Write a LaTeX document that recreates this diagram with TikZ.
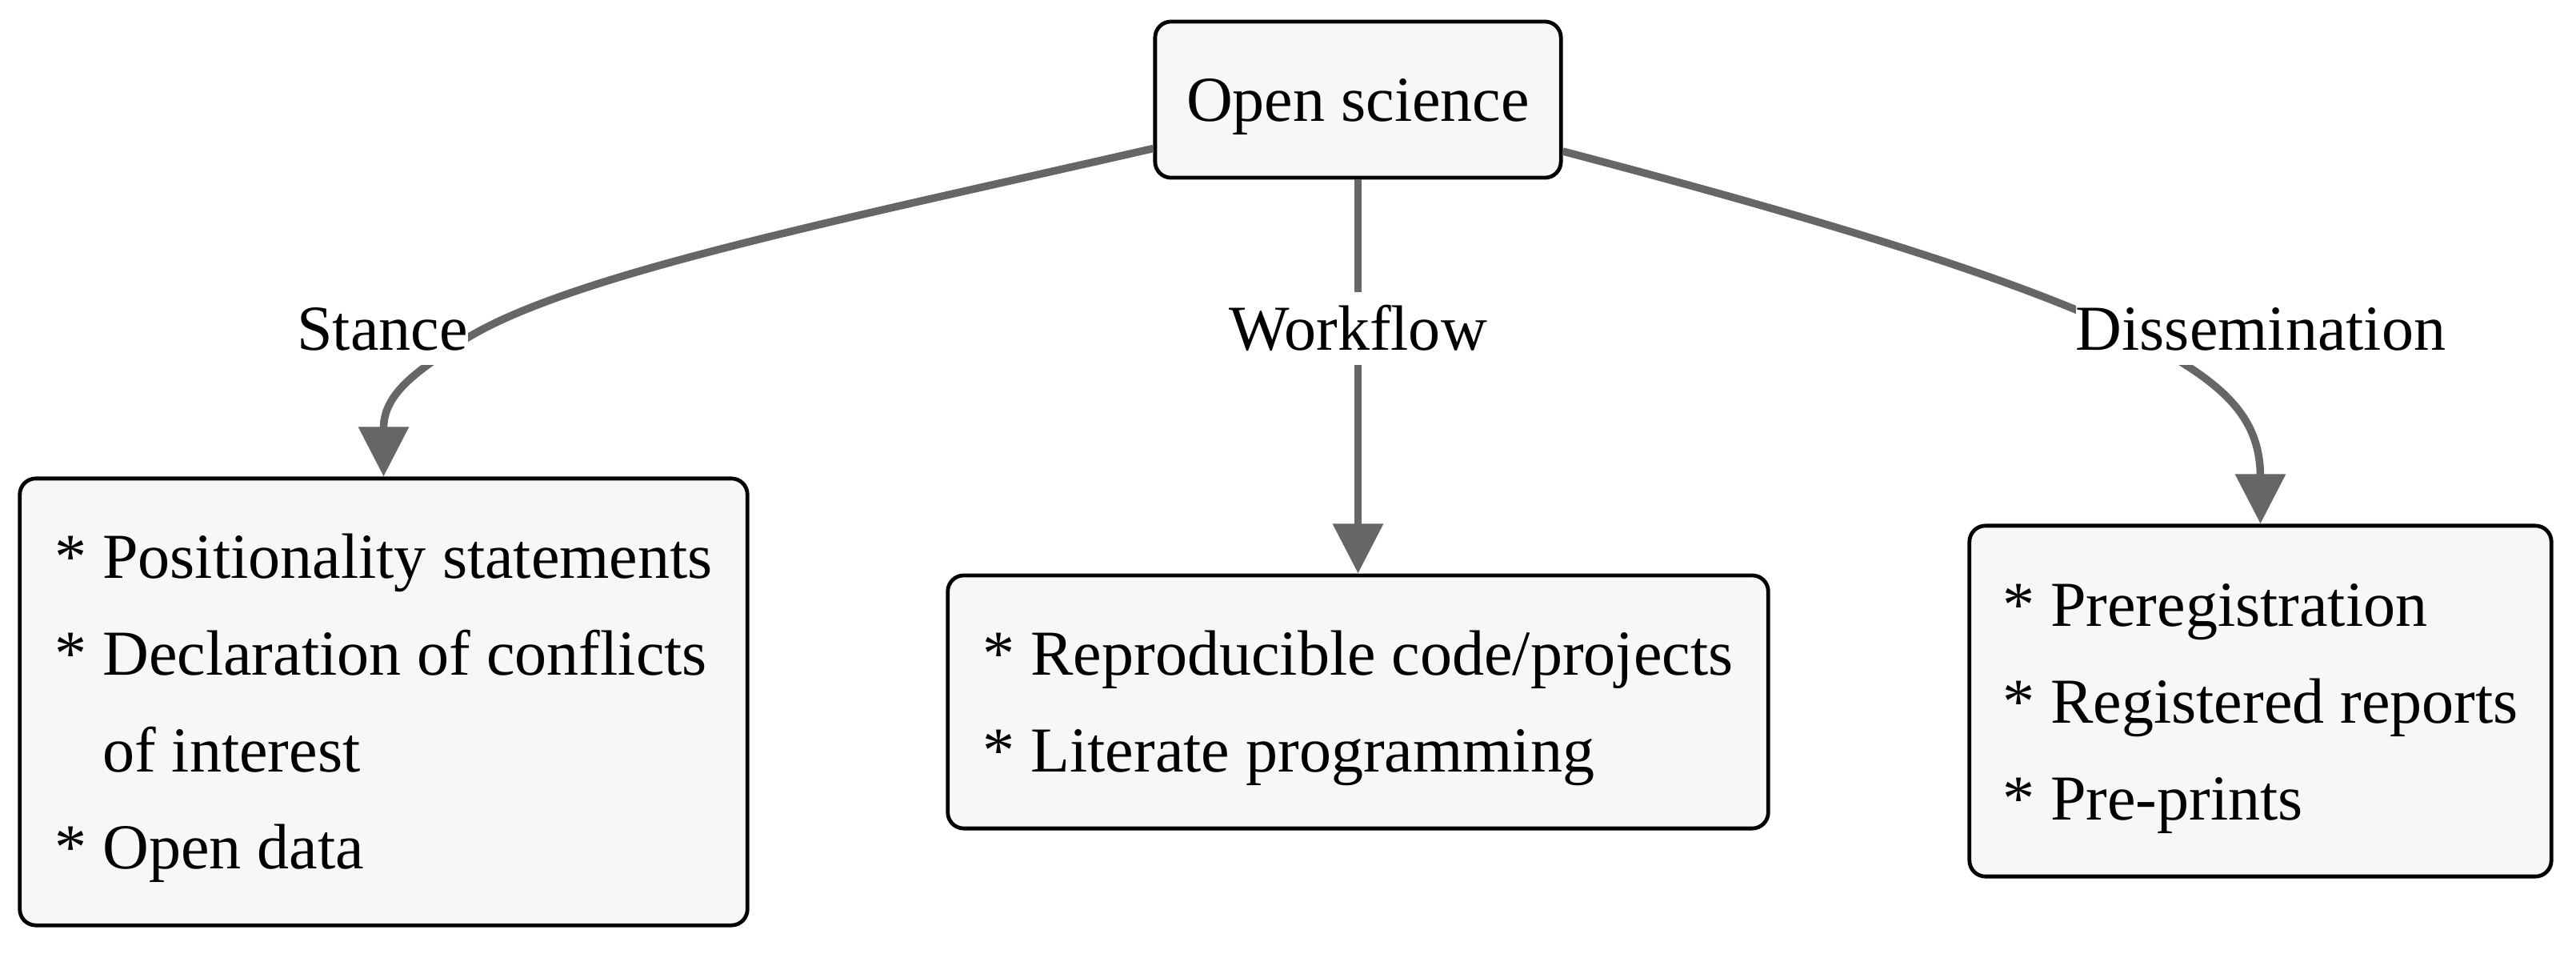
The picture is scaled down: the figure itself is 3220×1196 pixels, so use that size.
\documentclass[tikz,border=0pt]{standalone}
\usepackage{fontspec}
\setmainfont{Liberation Serif}
\usetikzlibrary{arrows.meta}
\definecolor{boxfill}{HTML}{F7F7F7}
\definecolor{edgegray}{HTML}{666666}
\newcommand\ls{\rule[-0.333cm]{0pt}{1.21cm}}
\begin{document}
\begin{tikzpicture}[x=0.01cm, y=-0.01cm,
  font=\fontsize{22.76pt}{34.43pt}\selectfont,
  box/.style={draw=black, line width=0.048cm, rounded corners=0.2cm, fill=boxfill, align=left, inner sep=0pt},
  lbl/.style={fill=white, inner sep=0pt, text height=0.72cm, text depth=0.19cm},
  edge/.style={draw=edgegray, line width=0.095cm, -{Triangle[length=0.62cm,width=0.61cm]}}]
\useasboundingbox (0,0) rectangle (3220,1196);
\node[box, minimum width=5.07cm, minimum height=1.95cm] (top) at (1697.5,124.5) {\ls Open science};
\node[box, minimum width=9.09cm, minimum height=5.58cm] (stance) at (479.5,877)
  {\ls* Positionality statements\\ \ls* Declaration of conflicts\\ \ls\hphantom{* }of interest\\ \ls* Open data};
\node[box, minimum width=10.25cm, minimum height=3.16cm] (workflow) at (1697.5,877)
  {\ls* Reproducible code/projects\\ \ls* Literate programming};
\node[box, minimum width=7.27cm, minimum height=4.38cm] (dissem) at (2825.5,876)
  {\ls* Preregistration\\ \ls* Registered reports\\ \ls* Pre-prints};
\draw[edge] ([yshift=-0.61cm]top.west) .. controls (1050,275) and (700,345) .. (575,428)
  .. controls (525,462) and (479.5,490) .. (479.5,535) -- (stance.north);
\draw[edge] (top.south) -- (workflow.north);
\draw[edge] ([yshift=-0.645cm]top.east) .. controls (2300,280) and (2560,360) .. (2695,434)
  .. controls (2785,484) and (2825.5,525) .. (2825.5,597) -- (dissem.north);
\node[lbl] (lstance) at (478,410.5) {Stance};
\node[lbl] (lwork) at (1697.5,410.5) {Workflow};
\node[lbl] (ldiss) at (2826,410.5) {Dissemination};
\end{tikzpicture}
\end{document}
